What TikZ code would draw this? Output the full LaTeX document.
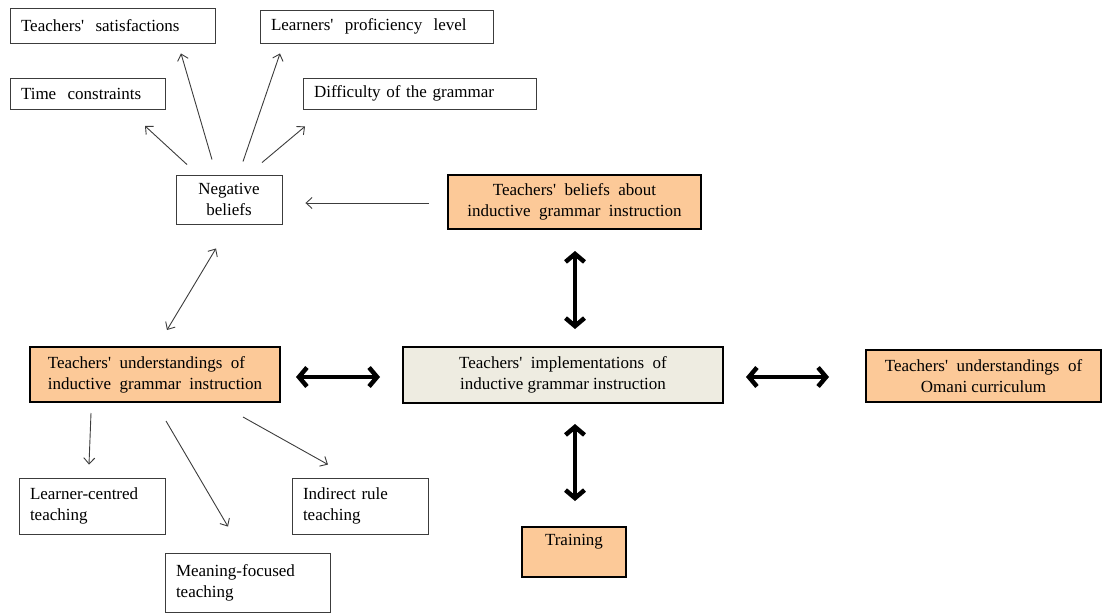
\documentclass[tikz,border=0pt]{standalone}
\usepackage{fontspec}
\setmainfont{Liberation Serif}
\usetikzlibrary{arrows.meta}
\definecolor{orangefill}{RGB}{252,201,152}
\definecolor{tanfill}{RGB}{238,236,225}
\definecolor{thinline}{RGB}{60,60,60}
\newcommand{\ap}{\textquotesingle}
\begin{document}
\begin{tikzpicture}[x=1pt,y=1pt,
 font=\fontsize{17}{21}\selectfont,
 thinbox/.style={draw=thinline, line width=0.9pt, inner xsep=11pt, inner ysep=0pt, align=left},
 thickbox/.style={draw=black, line width=2pt, inner sep=0pt, align=center},
 thinarrow/.style={draw=thinline, line width=0.9pt, -{Straight Barb[length=6pt,width=11pt]}},
 thinboth/.style={draw=thinline, line width=0.9pt, {Straight Barb[length=6pt,width=11pt]}-{Straight Barb[length=6pt,width=11pt]}},
 bigarrow/.style={line width=4.5pt, {Straight Barb[length=8pt,width=19pt]}-{Straight Barb[length=8pt,width=19pt]}},
]
\useasboundingbox (0,0) rectangle (1102,-613);

% top boxes
\node[thinbox, text width=183pt, minimum height=35pt] (sat) at (112.5,-25.5) {Teachers\ap\ \ satisfactions};
\node[thinbox, text width=211pt, minimum height=33pt] (lpl) at (376.5,-26.5) {Learners\ap\ \ proficiency\ \ level};
\node[thinbox, text width=133pt, minimum height=31pt] (time) at (87.5,-93.5) {Time\ \ constraints};
\node[thinbox, text width=211pt, minimum height=31pt] (diff) at (419.5,-93.5) {Difficulty of the grammar};
\node[thinbox, align=center, text width=84pt, minimum height=49pt] (neg) at (229,-199.5) {Negative\\beliefs};

% main boxes
\node[thickbox, fill=orangefill, minimum width=253pt, minimum height=54pt] (bel) at (574.5,-202) {Teachers\ap\ \ beliefs\ \ about\\inductive\ \ grammar\ \ instruction};
\node[thickbox, fill=orangefill, minimum width=250pt, minimum height=55pt, align=left] (und) at (155,-374.5) {Teachers\ap\ \ understandings\ \ of\\inductive\ \ grammar\ \ instruction};
\node[thickbox, fill=tanfill, minimum width=320pt, minimum height=56pt] (imp) at (563,-375) {Teachers\ap\ \ implementations\ \ of\\inductive grammar instruction};
\node[thickbox, fill=orangefill, minimum width=235pt, minimum height=52pt] (oma) at (983.5,-376) {Teachers\ap\ \ understandings\ \ of\\Omani\ curriculum};
\node[thickbox, fill=orangefill, minimum width=104pt, text height=14pt, text depth=28pt, inner ysep=4pt] (trn) at (574,-552) {Training};

% bottom boxes
\node[thinbox, text width=124pt, minimum height=56pt] (lct) at (92,-506) {Learner-centred\\teaching};
\node[thinbox, text width=114pt, minimum height=56pt] (ind) at (360,-506) {Indirect rule\\teaching};
\node[thinbox, text width=143pt, minimum height=59pt] (mft) at (247.5,-582.5) {Meaning-focused\\teaching};

% thin arrows
\draw[thinarrow] ([shift={(-42,10)}]neg.north) -- ([shift={(57.5,-16.5)}]time.south);
\draw[thinarrow] ([shift={(-17,15)}]neg.north) -- ([shift={(68.5,-10)}]sat.south);
\draw[thinarrow] ([shift={(14,13)}]neg.north) -- ([shift={(-96.5,-10)}]lpl.south);
\draw[thinarrow] ([shift={(33,12)}]neg.north) -- ([shift={(-114.5,-17)}]diff.south);
\draw[thinarrow] ([shift={(-18,-1)}]bel.west) -- ([shift={(23,-3.5)}]neg.east);
\draw[thinboth] ([shift={(-13,-24)}]neg.south) -- ([shift={(12,16)}]und.north);
\draw[thinarrow] ([shift={(-64,-10)}]und.south) -- ([shift={(-3,13)}]lct.north);
\draw[thinarrow] ([shift={(11,-18)}]und.south) -- ([shift={(-19.5,26)}]mft.north);
\draw[thinarrow] ([shift={(88,-14)}]und.south) -- ([shift={(-32,13)}]ind.north);

% thick double arrows
\draw[bigarrow] ([shift={(0.5,-21)}]bel.south) -- ([shift={(12,17)}]imp.north);
\draw[bigarrow] ([shift={(15,-2.5)}]und.east) -- ([shift={(-22,-2)}]imp.west);
\draw[bigarrow] ([shift={(22,-2)}]imp.east) -- ([shift={(-36,-1)}]oma.west);
\draw[bigarrow] ([shift={(12,-20)}]imp.south) -- ([shift={(1,25)}]trn.north);
\end{tikzpicture}
\end{document}
